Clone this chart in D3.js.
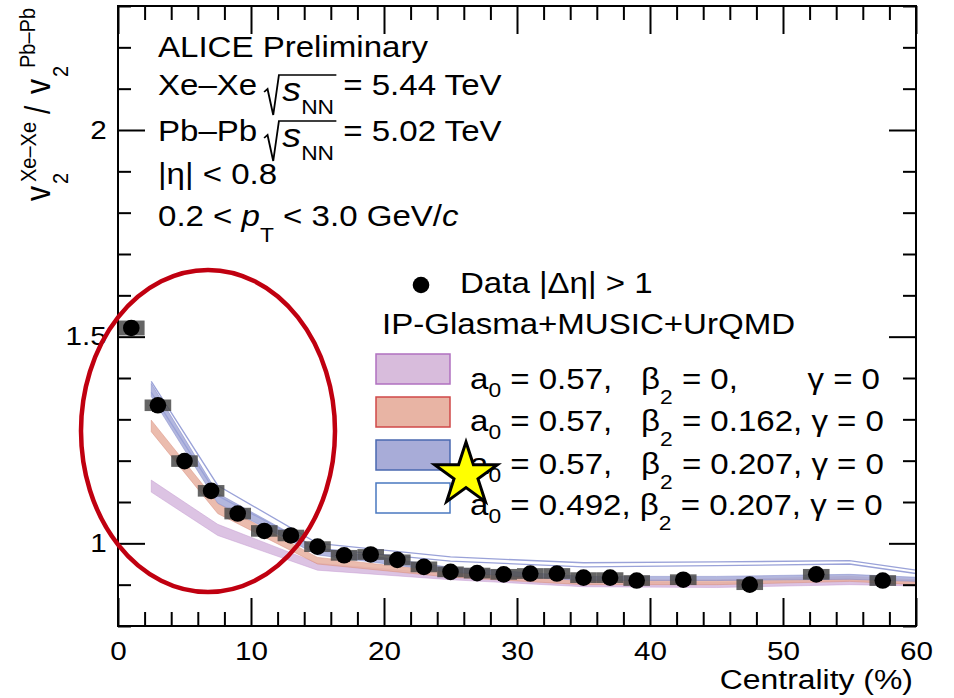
<!DOCTYPE html>
<html>
<head>
<meta charset="utf-8">
<script src="https://cdn.jsdelivr.net/npm/d3@7"></script>
<style>
body{margin:0;background:#fff}
text{font-family:"Liberation Sans",Arial,sans-serif;fill:#000}
</style>
</head>
<body>
<div id="canvas"></div>
<script>
"use strict"

let svgWidth=954
let svgHeight=698

// data points (centrality %, ratio, systematic)
let centrality=[1,3,5,7,9,11,13,15,17,19,21,23,25,27,29,31,33,35,37,39,42.5,47.5,52.5,57.5]
let ratio=[1.521,1.334,1.199,1.127,1.072,1.030,1.019,0.992,0.971,0.973,0.960,0.943,0.931,0.928,0.925,0.927,0.927,0.917,0.917,0.910,0.912,0.900,0.925,0.910]
let systErr=[0.018,0.014,0.014,0.014,0.014,0.014,0.014,0.013,0.013,0.013,0.013,0.013,0.013,0.013,0.013,0.013,0.013,0.013,0.013,0.013,0.013,0.013,0.013,0.013]

// model bands
let modelCentrality=[2.5,7.5,15,25,35,45,55,60]
let beta0Low=[1.124,1.019,0.935,0.912,0.895,0.893,0.900,0.897]
let beta0High=[1.153,1.046,0.952,0.925,0.908,0.905,0.912,0.907]
let beta162Low=[1.270,1.072,0.950,0.918,0.900,0.900,0.908,0.900]
let beta162High=[1.298,1.097,0.966,0.930,0.912,0.912,0.920,0.912]
let beta207Low=[1.355,1.097,0.972,0.930,0.910,0.910,0.913,0.908]
let beta207High=[1.387,1.121,0.988,0.942,0.920,0.920,0.925,0.918]
let a492Low=[1.365,1.115,0.988,0.957,0.943,0.946,0.950,0.927]
let a492High=[1.392,1.140,1.000,0.967,0.953,0.955,0.958,0.935]

let xMajor=[0,10,20,30,40,50,60]
let yMajor=[1,1.5,2]
let yMajorLabels=["1","1.5","2"]

let sx=1.14

let svg=d3.select("#canvas")
    .append("svg")
    .attr("width",svgWidth)
    .attr("height",svgHeight)

let x=d3.scaleLinear().domain([0,60]).range([118,916])
let y=d3.scaleLinear().domain([0.8,2.3]).range([626,6])

let plot=svg.append("g")

// bands
function band(low,high,fill,stroke){
    let pts=modelCentrality.map((c,i)=>({c:c,lo:low[i],hi:high[i]}))
    plot.append("path")
        .attr("d",d3.area().x(d=>x(d.c)).y0(d=>y(d.lo)).y1(d=>y(d.hi))(pts))
        .attr("fill",fill)
        .attr("fill-opacity",0.85)
        .attr("stroke",stroke)
        .attr("stroke-width",0.8)
        .attr("stroke-opacity",0.6)
}
band(beta0Low,beta0High,"#d6b8de","#c49ad0")
band(beta162Low,beta162High,"#e8b0a0","#d88878")
band(beta207Low,beta207High,"#a6aad8","#7a82c8")

let a492Pts=modelCentrality.map((c,i)=>({c:c,lo:a492Low[i],hi:a492High[i]}))
plot.append("path")
    .attr("d",d3.line().x(d=>x(d.c)).y(d=>y(d.hi))(a492Pts))
    .attr("fill","none").attr("stroke","#9aa2d8").attr("stroke-width",1.3)
plot.append("path")
    .attr("d",d3.line().x(d=>x(d.c)).y(d=>y(d.lo))(a492Pts))
    .attr("fill","none").attr("stroke","#9aa2d8").attr("stroke-width",1.3)

// data
let pts=centrality.map((c,i)=>({c:c,v:ratio[i],s:systErr[i]}))
plot.selectAll(".syst").data(pts).enter().append("rect")
    .attr("x",d=>x(d.c-1))
    .attr("width",d=>x(d.c+1)-x(d.c-1))
    .attr("y",d=>y(d.v+d.s))
    .attr("height",d=>y(d.v-d.s)-y(d.v+d.s))
    .attr("fill","#4a4a4a")
    .attr("fill-opacity",0.85)
plot.selectAll(".dot").data(pts).enter().append("circle")
    .attr("cx",d=>x(d.c))
    .attr("cy",d=>y(d.v))
    .attr("r",8.3)
    .attr("fill","#000")

// axes
function styleAxis(g){
    g.select(".domain").remove()
    g.selectAll("line").attr("stroke","#000").attr("stroke-width",2)
    g.selectAll("text").attr("font-size",26).attr("fill","#000")
        .style("font-family","\"Liberation Sans\",Arial,sans-serif")
}
let xMinor=d3.range(0,61,2).filter(v=>v%10!==0)
let yMinor=d3.range(8,24).map(v=>v/10).filter(v=>yMajor.indexOf(v)<0)

svg.append("g").attr("transform","translate(0,626)")
    .call(d3.axisBottom(x).tickValues(xMajor).tickSizeInner(-28).tickSizeOuter(0).tickPadding(16).tickFormat(d3.format("d")))
    .call(styleAxis)
    .selectAll("text").attr("transform",`scale(${sx},1)`)
svg.append("g").attr("transform","translate(0,626)")
    .call(d3.axisBottom(x).tickValues(xMinor).tickSizeInner(-14).tickSizeOuter(0).tickFormat(""))
    .call(styleAxis)
svg.append("g").attr("transform","translate(0,6)")
    .call(d3.axisTop(x).tickValues(xMajor).tickSizeInner(-28).tickSizeOuter(0).tickFormat(""))
    .call(styleAxis)
svg.append("g").attr("transform","translate(0,6)")
    .call(d3.axisTop(x).tickValues(xMinor).tickSizeInner(-14).tickSizeOuter(0).tickFormat(""))
    .call(styleAxis)
svg.append("g").attr("transform","translate(118,0)")
    .call(d3.axisLeft(y).tickValues(yMajor).tickSizeInner(-27).tickSizeOuter(0).tickPadding(10).tickFormat((d,i)=>yMajorLabels[i]))
    .call(styleAxis)
    .selectAll("text").attr("transform",`scale(${sx},1)`)
svg.append("g").attr("transform","translate(118,0)")
    .call(d3.axisLeft(y).tickValues(yMinor).tickSizeInner(-13).tickSizeOuter(0).tickFormat(""))
    .call(styleAxis)
svg.append("g").attr("transform","translate(916,0)")
    .call(d3.axisRight(y).tickValues(yMajor).tickSizeInner(-27).tickSizeOuter(0).tickFormat(""))
    .call(styleAxis)
svg.append("g").attr("transform","translate(916,0)")
    .call(d3.axisRight(y).tickValues(yMinor).tickSizeInner(-13).tickSizeOuter(0).tickFormat(""))
    .call(styleAxis)

svg.append("rect")
    .attr("x",118).attr("y",6)
    .attr("width",916-118).attr("height",626-6)
    .attr("fill","none").attr("stroke","#000").attr("stroke-width",2)

// text helpers
function textAt(px,py,size,anchor){
    let g=svg.append("g").attr("transform",`translate(${px},${py}) scale(${sx},1)`)
    let t=g.append("text").attr("x",0).attr("y",0).attr("font-size",size)
        .attr("text-anchor",anchor||"start")
    return {g:g,t:t}
}

textAt(913,689,28,"end").t.text("Centrality (%)")

// y title (rotated)
let yt=svg.append("g").attr("transform",`translate(50,201) rotate(-90) scale(1,${sx})`)
let ytt=yt.append("text").attr("font-size",30)
ytt.append("tspan").attr("x",0).attr("y",0).text("v")
ytt.append("tspan").attr("x",17).attr("y",16).attr("font-size",20).text("2")
ytt.append("tspan").attr("x",19).attr("y",-12).attr("font-size",20).text("Xe\u2013Xe")
ytt.append("tspan").attr("x",87).attr("y",0).text("/")
ytt.append("tspan").attr("x",107).attr("y",0).text("v")
ytt.append("tspan").attr("x",124).attr("y",16).attr("font-size",20).text("2")
ytt.append("tspan").attr("x",133).attr("y",-13).attr("font-size",20).text("Pb\u2013Pb")

// header
let fs=29
textAt(158,57,fs).t.text("ALICE Preliminary")

function sqrtRow(py,label,value){
    let o=textAt(158,py,fs)
    let t=o.t
    t.append("tspan").text(label+" ")
    t.append("tspan").attr("dx",14).attr("dy",6).attr("font-style","italic").attr("font-size",33).text("s")
    t.append("tspan").attr("dy",13).attr("font-size",20).text("NN")
    t.append("tspan").attr("dy",-19).text(" = "+value+" TeV")
    let n=(label+" ").length
    let sp=t.node().getStartPositionOfChar(n)
    let ep=t.node().getEndPositionOfChar(n+2)
    o.g.append("path")
        .attr("d",`M${sp.x-16},${-3} L${sp.x-13},${-6} L${sp.x-8},${20} L${sp.x-3},${-20} L${ep.x+2},${-20}`)
        .attr("fill","none").attr("stroke","#000").attr("stroke-width",1.6)
}
sqrtRow(95,"Xe\u2013Xe","5.44")
sqrtRow(141,"Pb\u2013Pb","5.02")
textAt(158,184,fs).t.text("|\u03b7| < 0.8")
let pt=textAt(158,226,fs).t
pt.append("tspan").text("0.2 < ")
pt.append("tspan").attr("font-style","italic").text("p")
pt.append("tspan").attr("dy",16).attr("font-size",20).text("T")
pt.append("tspan").attr("dy",-16).text(" < 3.0 GeV/")
pt.append("tspan").attr("font-style","italic").text("c")

// legend
svg.append("circle").attr("cx",421).attr("cy",285).attr("r",8.3).attr("fill","#000")
textAt(460,293,fs).t.text("Data |\u0394\u03b7| > 1")
textAt(382,334,fs).t.text("IP-Glasma+MUSIC+UrQMD")

let legendFill=["#d8bcdc","#e8b4a4","#a8acd8","#ffffff"]
let legendStroke=["#b070c0","#d04848","#4a68b0","#4a78c0"]
let legendTop=[354,397,440,483]
legendTop.forEach((ty,i)=>{
    svg.append("rect").attr("x",376).attr("y",ty).attr("width",74).attr("height",30)
        .attr("fill",legendFill[i]).attr("stroke",legendStroke[i]).attr("stroke-width",1.5)
})

function aPart(t,a0){
    t.append("tspan").text("a")
    t.append("tspan").attr("dy",8).attr("font-size",20).text("0")
    t.append("tspan").attr("dy",-8).text(" = "+a0+",")
}
function betaPart(t,xPos,b){
    let s=t.append("tspan").text("\u03b2")
    if(xPos!==null) s.attr("x",xPos)
    t.append("tspan").attr("dy",15).attr("font-size",20).text("2")
    t.append("tspan").attr("dy",-15).text(" = "+b)
}
let l1=textAt(470,389,fs).t
aPart(l1,"0.57")
betaPart(l1,150,"0,")
l1.append("tspan").attr("x",296).text("\u03b3 = 0")
let l2=textAt(470,431,fs).t
aPart(l2,"0.57")
betaPart(l2,150,"0.162, \u03b3 = 0")
let l3=textAt(470,474,fs).t
aPart(l3,"0.57")
betaPart(l3,150,"0.207, \u03b3 = 0")
let l4=textAt(470,515,fs).t
aPart(l4,"0.492")
l4.append("tspan").text(" ")
betaPart(l4,null,"0.207, \u03b3 = 0")

// annotations
svg.append("ellipse")
    .attr("cx",208).attr("cy",431).attr("rx",127).attr("ry",161)
    .attr("fill","none").attr("stroke","#c00010").attr("stroke-width",4.5)
svg.append("path")
    .attr("transform","translate(466,475)")
    .attr("d",d3.symbol().type(d3.symbolStar).size(1222)())
    .attr("fill","#ffff00").attr("stroke","#000").attr("stroke-width",3)
</script>
</body>
</html>
